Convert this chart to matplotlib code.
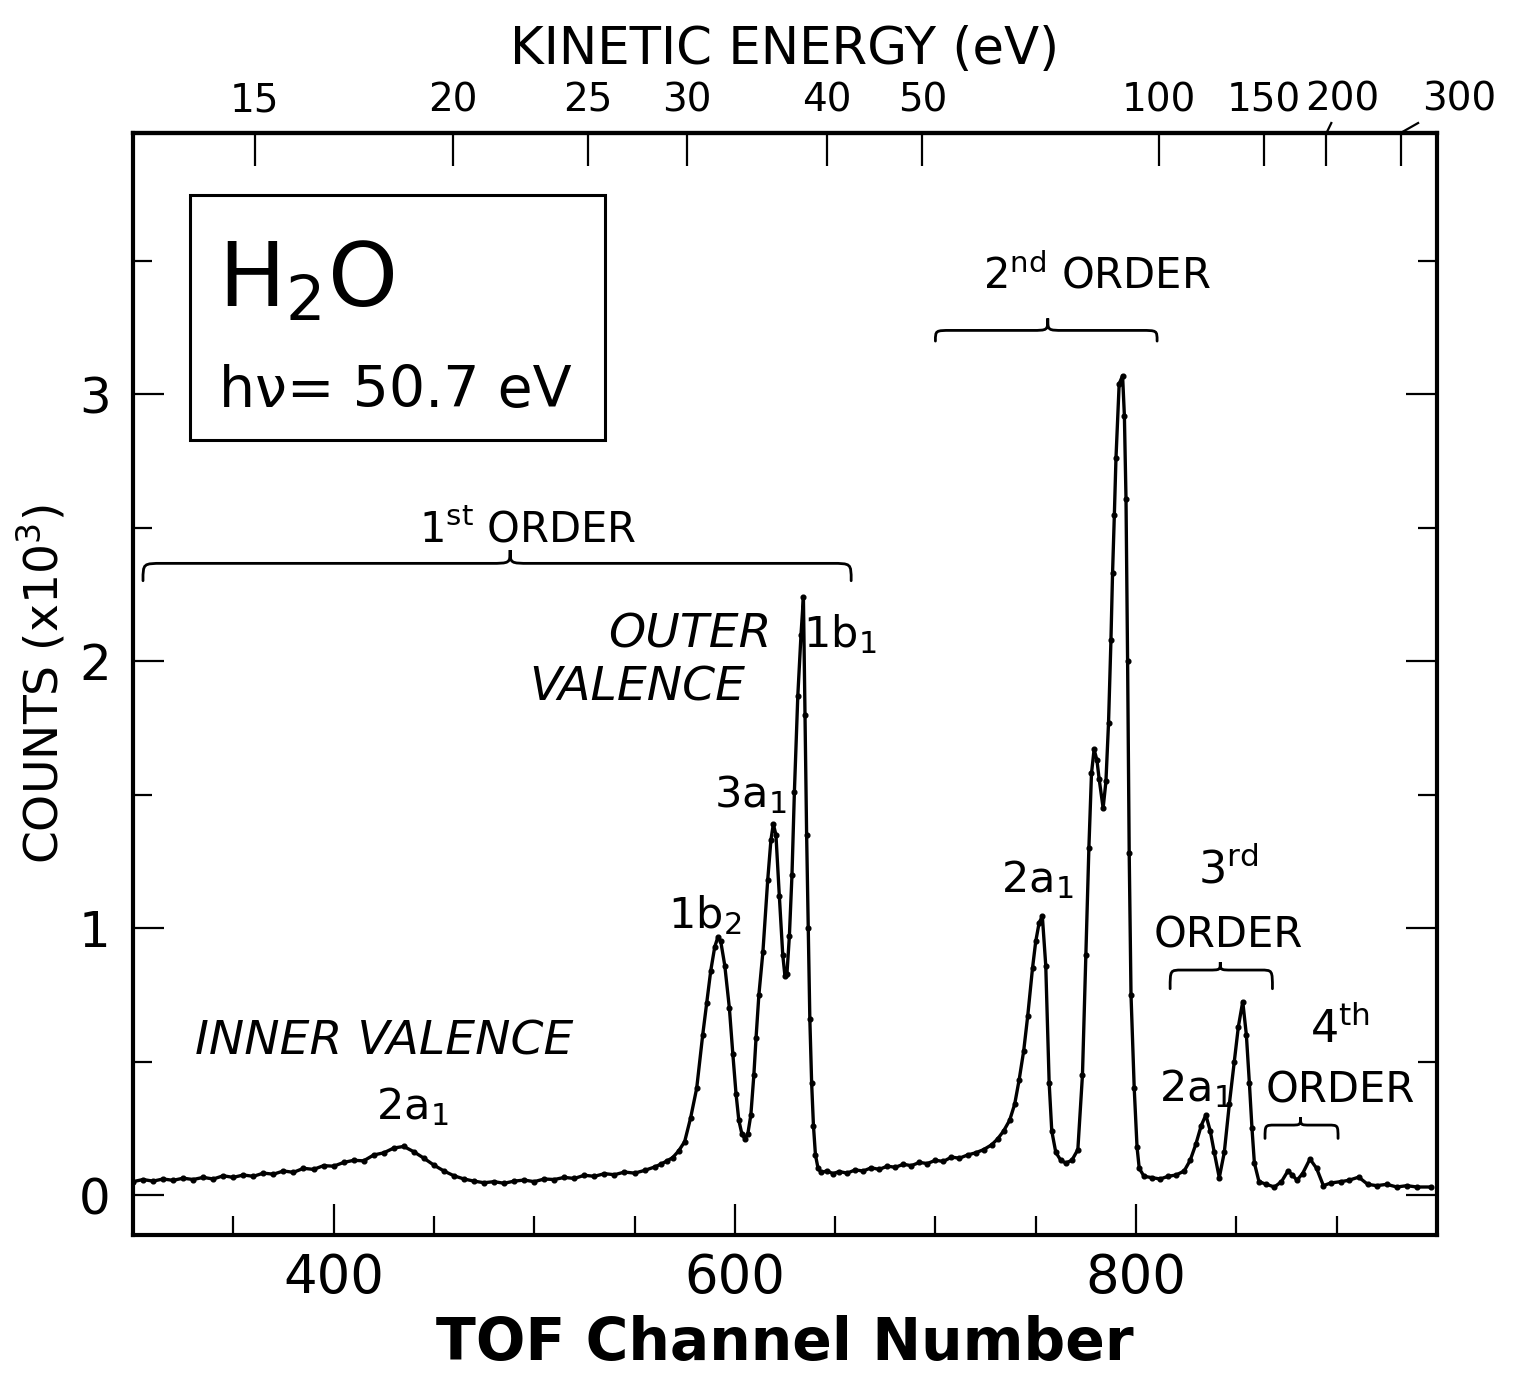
import numpy as np
import matplotlib
matplotlib.use('Agg')
import matplotlib.pyplot as plt
from matplotlib.path import Path
from matplotlib.patches import PathPatch, Rectangle
from matplotlib.ticker import MultipleLocator, FixedLocator, NullLocator, FixedFormatter
from matplotlib.transforms import blended_transform_factory

plt.rcParams['font.family'] = ['DejaVu Sans']
plt.rcParams['mathtext.fontset'] = 'dejavusans'
plt.rcParams['mathtext.default'] = 'regular'

# spectrum: TOF channel vs counts (x10^3)
ch_first = np.arange(300, 561, 5)
cnt_first = [.050, .058, .052, .060, .055, .063, .058, .066, .060, .072,
             .066, .075, .070, .082, .078, .090, .085, .100, .096, .110,
             .108, .122, .130, .128, .150, .158, .176, .182, .162, .138,
             .112, .090, .072, .060, .052, .046, .050, .044, .052, .056,
             .050, .060, .058, .066, .062, .074, .070, .080, .076, .086,
             .082, .092, .105]

ch_outer = [563, 566, 569, 572, 575, 578, 581, 584, 586, 588,
            590, 591.5, 593, 595, 597.3, 599, 600.6, 602, 603.5, 605,
            606.5, 608, 609.5, 610.6, 612, 614, 616.4, 618, 619.2, 620.5,
            622.2, 623.9, 625, 626, 627.2, 628.5, 629.7, 631.4, 633, 634.2,
            635.0, 635.8, 636.6, 637.4, 638.3, 639.2, 640.2, 641.5, 643, 646,
            649]
cnt_outer = [.115, .127, .14, .165, .20, .29, .40, .60, .72, .84,
             .93, .965, .95, .86, .70, .53, .38, .28, .23, .21,
             .23, .30, .45, .59, .75, .91, 1.18, 1.33, 1.39, 1.35,
             1.12, .90, .82, .83, .97, 1.20, 1.51, 1.87, 2.10, 2.24,
             1.80, 1.35, 1.00, .66, .42, .26, .15, .10, .085, .09,
             .08]

ch_second = [652, 656, 660, 664, 668, 672, 676, 680, 684, 688,
             692, 696, 700, 704, 708, 712, 716, 720, 724, 728,
             731, 734, 737, 739.5, 741.7, 744, 746, 748.4, 750, 751.7,
             753.3, 755, 756.7, 758, 760, 762.5, 765, 768, 771, 773.3,
             775, 776.5, 777.8, 779.1, 780.5, 781.6, 783.6, 785, 786.3, 787.5,
             788.3, 789.2, 790, 791.6, 793.3, 794.2, 795, 795.8, 796.6, 797.5,
             799.1, 800.5, 801.6, 804]
cnt_second = [.088, .082, .094, .090, .102, .096, .108, .104, .115, .110,
              .122, .118, .130, .126, .142, .138, .150, .158, .170, .188,
              .21, .24, .28, .34, .43, .54, .67, .85, .95, 1.02,
              1.045, .86, .42, .24, .16, .13, .12, .13, .17, .45,
              .90, 1.30, 1.58, 1.67, 1.63, 1.56, 1.45, 1.55, 1.77, 2.08,
              2.33, 2.55, 2.76, 3.04, 3.07, 2.92, 2.61, 2.00, 1.28, .75,
              .40, .18, .10, .07]

ch_high = [808, 812, 816, 820, 824, 827, 829.8, 832.5, 834.8, 837,
           839, 841.5, 844, 846.5, 849, 851, 853.2, 855, 856.5, 857.8,
           859, 861.3, 865, 869, 872.5, 875.7, 878, 880.2, 883, 886.7,
           890, 893.4, 897, 902, 906, 911, 915.5, 920, 925, 930,
           935, 940, 947]
cnt_high = [.065, .060, .070, .075, .090, .13, .19, .26, .30, .24,
            .16, .065, .16, .34, .50, .63, .725, .60, .42, .25,
            .12, .05, .04, .03, .05, .09, .075, .055, .08, .135,
            .10, .035, .045, .05, .055, .067, .04, .035, .04, .03,
            .035, .03, .03]

channel = np.concatenate([ch_first, ch_outer, ch_second, ch_high])
counts = np.concatenate([cnt_first, cnt_outer, cnt_second, cnt_high])

# kinetic energy scale on top: channel = C0 - K/sqrt(E)
C0, K_CAL = 1096.4, 2849.0
ke_ticks = [15, 20, 25, 30, 40, 50, 100, 150, 200, 300]
ke_labels = ['15', '20', '25', '30', '40', '50', '100', '150', '', '']
# the last two labels sit to the right of their ticks, with a small leader
ke_shifted = [200, 300]
ke_shift_ch = [8, 29]


def ch_to_ke(ch):
    ch = np.asarray(ch, dtype=float)
    return (K_CAL / np.maximum(C0 - ch, 1e-6)) ** 2


def ke_to_ch(ke):
    ke = np.asarray(ke, dtype=float)
    return C0 - K_CAL / np.sqrt(np.maximum(ke, 1e-6))


def brace(ax, x0, x1, xm, y, d_end, d_tip, r, lw=2.0):
    verts = [(x0, y - d_end), (x0, y), (x0, y), (x0 + r, y),
             (xm - r, y), (xm, y), (xm, y), (xm, y + d_tip),
             (xm, y), (xm, y), (xm + r, y),
             (x1 - r, y), (x1, y), (x1, y), (x1, y - d_end)]
    codes = [Path.MOVETO, Path.CURVE4, Path.CURVE4, Path.CURVE4,
             Path.LINETO, Path.CURVE4, Path.CURVE4, Path.CURVE4,
             Path.CURVE4, Path.CURVE4, Path.CURVE4,
             Path.LINETO, Path.CURVE4, Path.CURVE4, Path.CURVE4]
    ax.add_patch(PathPatch(Path(verts, codes), fill=False, lw=lw,
                           color='k', capstyle='round'))


fig = plt.figure(figsize=(15.18, 13.79), dpi=100)
ax = fig.add_axes([0.0876, 0.1044, 0.859, 0.7992])

ax.plot(channel, counts, color='k', lw=2.4, marker='o', ms=3.4)

ax.set_xlim(300, 950)
ax.set_ylim(-0.15, 3.98)
ax.xaxis.set_major_locator(MultipleLocator(200))
ax.xaxis.set_minor_locator(MultipleLocator(50))
ax.yaxis.set_major_locator(MultipleLocator(1))
ax.yaxis.set_minor_locator(MultipleLocator(0.5))
ax.tick_params(which='both', direction='in', top=False, right=True, width=1.6)
ax.tick_params(which='major', length=22)
ax.tick_params(which='minor', length=14)
ax.tick_params(axis='x', labelsize=38, pad=12)
ax.tick_params(axis='y', labelsize=36, pad=16)
for s in ax.spines.values():
    s.set_linewidth(3)

ax.set_xlabel('TOF Channel Number', fontsize=42, fontweight='bold', labelpad=8)
ax.set_ylabel('COUNTS (x10$^3$)', fontsize=34, labelpad=8)

secax = ax.secondary_xaxis('top', functions=(ch_to_ke, ke_to_ch))
secax.xaxis.set_major_locator(FixedLocator(ke_ticks))
secax.xaxis.set_minor_locator(NullLocator())
secax.xaxis.set_major_formatter(FixedFormatter(ke_labels))
secax.tick_params(direction='in', length=24, width=1.6, labelsize=28, pad=10)
secax.spines['top'].set_linewidth(3)
secax.set_xlabel('KINETIC ENERGY (eV)', fontsize=37, labelpad=12)

top_tr = blended_transform_factory(ax.transData, ax.transAxes)
for ke, dx in zip(ke_shifted, ke_shift_ch):
    xc = float(ke_to_ch(ke))
    ax.text(xc + dx, 1.0127, str(ke), transform=top_tr, fontsize=28,
            ha='center', va='bottom', clip_on=False)
    ax.plot([xc, xc + 0.3 * dx], [1.0, 1.009], transform=top_tr, color='k',
            lw=1.6, clip_on=False)

# molecule box
ax.add_patch(Rectangle((0.0437, 0.721), 0.318, 0.223, transform=ax.transAxes,
                       fill=False, lw=2.2, color='k'))
ax.text(0.065, 0.865, 'H$_2$O', transform=ax.transAxes, fontsize=64,
        va='center', ha='left')
ax.text(0.066, 0.765, 'h\u03bd= 50.7 eV', transform=ax.transAxes, fontsize=41,
        va='center', ha='left')

# order labels and braces
ax.text(497, 2.49, '1$^{st}$ ORDER', fontsize=30, ha='center', va='center')
brace(ax, 305, 658, 488, 2.367, 0.065, 0.05, 10)
ax.text(780.6, 3.446, '2$^{nd}$ ORDER', fontsize=30, ha='center', va='center')
brace(ax, 700, 810.5, 756, 3.24, 0.04, 0.045, 8)
ax.text(846, 1.217, '3$^{rd}$', fontsize=32, ha='center', va='center')
ax.text(846, 0.974, 'ORDER', fontsize=30, ha='center', va='center')
brace(ax, 817, 868, 842, 0.843, 0.07, 0.03, 6)
ax.text(901.7, 0.618, '4$^{th}$', fontsize=32, ha='center', va='center')
ax.text(901.7, 0.393, 'ORDER', fontsize=30, ha='center', va='center')
brace(ax, 864.3, 900.7, 882, 0.262, 0.05, 0.03, 5)

ax.text(577.7, 2.097, 'OUTER', fontsize=34, style='italic', ha='center', va='center')
ax.text(551.2, 1.90, 'VALENCE', fontsize=34, style='italic', ha='center', va='center')
ax.text(425.1, 0.573, 'INNER VALENCE', fontsize=34, style='italic', ha='center', va='center')

# peak labels
ax.text(439, 0.33, '2a$_1$', fontsize=31, ha='center', va='center')
ax.text(585, 1.05, '1b$_2$', fontsize=31, ha='center', va='center')
ax.text(607.6, 1.50, '3a$_1$', fontsize=31, ha='center', va='center')
ax.text(652.4, 2.10, '1b$_1$', fontsize=31, ha='center', va='center')
ax.text(750.6, 1.18, '2a$_1$', fontsize=31, ha='center', va='center')
ax.text(829.4, 0.40, '2a$_1$', fontsize=31, ha='center', va='center')

fig.savefig('out.png', dpi=100)
